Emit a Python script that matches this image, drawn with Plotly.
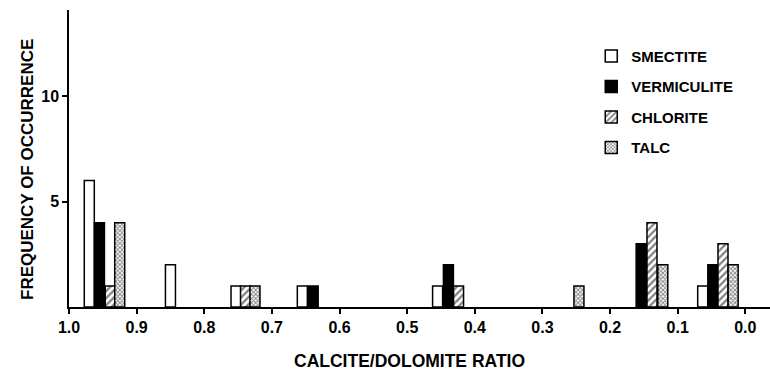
import plotly.graph_objects as go

# Data (x = calcite/dolomite ratio position of each bar, y = frequency)
smectite_x = [0.970, 0.850, 0.753, 0.655, 0.455, 0.063]
smectite_y = [6, 2, 1, 1, 1, 1]
vermiculite_x = [0.955, 0.639, 0.439, 0.154, 0.048]
vermiculite_y = [4, 1, 2, 3, 2]
chlorite_x = [0.939, 0.739, 0.424, 0.138, 0.033]
chlorite_y = [1, 1, 1, 4, 3]
talc_x = [0.925, 0.725, 0.246, 0.122, 0.018]
talc_y = [4, 1, 1, 2, 2]

x_tickvals = [1.0, 0.9, 0.8, 0.7, 0.6, 0.5, 0.4, 0.3, 0.2, 0.1, 0.0]
x_ticktext = ["1.0", "0.9", "0.8", "0.7", "0.6", "0.5", "0.4", "0.3", "0.2", "0.1", "0.0"]
y_tickvals = [5, 10]

BAR_W = 0.0148
FONT = "Liberation Sans, Arial, sans-serif"

fig = go.Figure()

def add(name, xs, ys, color, pattern=None, group=None):
    marker = dict(color=color, line=dict(color="black", width=1.5))
    if pattern:
        marker["pattern"] = pattern
    fig.add_trace(go.Bar(
        name=name, x=xs, y=ys, width=[BAR_W] * len(xs),
        marker=marker, legendgroup=group,
    ))

add("SMECTITE", smectite_x, smectite_y, "white", group="a")
add("VERMICULITE", vermiculite_x, vermiculite_y, "black", group="b")
add("CHLORITE", chlorite_x, chlorite_y, "white",
    pattern=dict(shape="/", fgcolor="black", bgcolor="white", size=5, solidity=0.45), group="c")
add("TALC", talc_x, talc_y, "white",
    pattern=dict(shape="x", fgcolor="black", bgcolor="white", size=3, solidity=0.5), group="d")

fig.update_layout(
    width=770, height=371,
    margin=dict(l=69, r=0, t=10, b=64, autoexpand=False),
    paper_bgcolor="white", plot_bgcolor="white",
    barmode="overlay",
    font=dict(family=FONT, color="black", size=16),
    showlegend=True,
    legend=dict(x=0.745, y=0.90, xanchor="left", yanchor="top",
                font=dict(family=FONT, size=15, color="black", weight="bold"),
                tracegroupgap=8, bgcolor="rgba(0,0,0,0)"),
    xaxis=dict(range=[1.0, -0.0365], tickvals=x_tickvals, ticktext=x_ticktext,
               showline=True, linecolor="black", linewidth=1.5, automargin=False,
               ticks="outside", ticklen=5, tickcolor="black", tickwidth=1.5,
               tickfont=dict(family=FONT, size=16, weight="bold"),
               showgrid=False, zeroline=False),
    yaxis=dict(range=[0, 14.09], tickvals=y_tickvals, automargin=False,
               showline=True, linecolor="black", linewidth=1.5,
               ticks="outside", ticklen=5, tickcolor="black", tickwidth=1.5,
               tickfont=dict(family=FONT, size=16, weight="bold"),
               showgrid=False, zeroline=False),
    annotations=[
        dict(text="CALCITE/DOLOMITE RATIO", xref="paper", yref="paper",
             x=(409 - 69) / 701, y=(307 - 361) / 297, xanchor="center", yanchor="middle",
             showarrow=False, font=dict(family=FONT, size=17.5, weight="bold")),
        dict(text="FREQUENCY OF OCCURRENCE", xref="paper", yref="paper",
             x=(27 - 69) / 701, y=(307 - 170) / 297, xanchor="center", yanchor="middle",
             textangle=-90, showarrow=False, font=dict(family=FONT, size=17, weight="bold")),
    ],
)

fig.write_html("out.html", config={"displayModeBar": False},
               post_script="document.body.style.margin='0';")
